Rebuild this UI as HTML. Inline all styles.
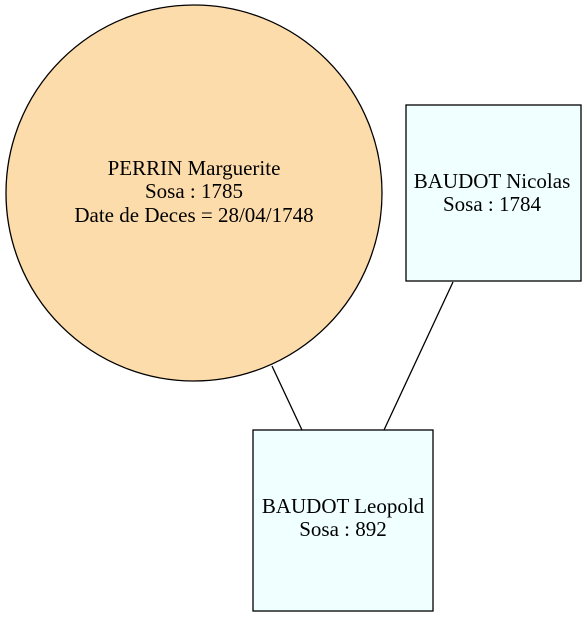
<!DOCTYPE html>
<html><head><style>body{margin:0;background:#fff}</style></head><body>
<svg width="587" height="617" xmlns="http://www.w3.org/2000/svg" font-family="Liberation Serif, serif" font-size="21">
<rect width="587" height="617" fill="#fff"/>
<line x1="272" y1="366" x2="302" y2="430" stroke="#000" stroke-width="1.3"/>
<line x1="453" y1="282" x2="384" y2="430" stroke="#000" stroke-width="1.3"/>
<circle cx="194" cy="193" r="188" fill="#fddcab" stroke="#000" stroke-width="1.3"/>
<rect x="406" y="105" width="175" height="176" fill="#f0ffff" stroke="#000" stroke-width="1.3"/>
<rect x="253" y="430" width="180" height="181" fill="#f0ffff" stroke="#000" stroke-width="1.3"/>
<g text-anchor="middle">
<text x="194" y="175">PERRIN Marguerite</text>
<text x="194" y="198">Sosa : 1785</text>
<text x="194" y="222">Date de Deces = 28/04/1748</text>
<text x="492" y="188">BAUDOT Nicolas</text>
<text x="492" y="211">Sosa : 1784</text>
<text x="343" y="513">BAUDOT Leopold</text>
<text x="343" y="536">Sosa : 892</text>
</g>
</svg>
</body></html>
